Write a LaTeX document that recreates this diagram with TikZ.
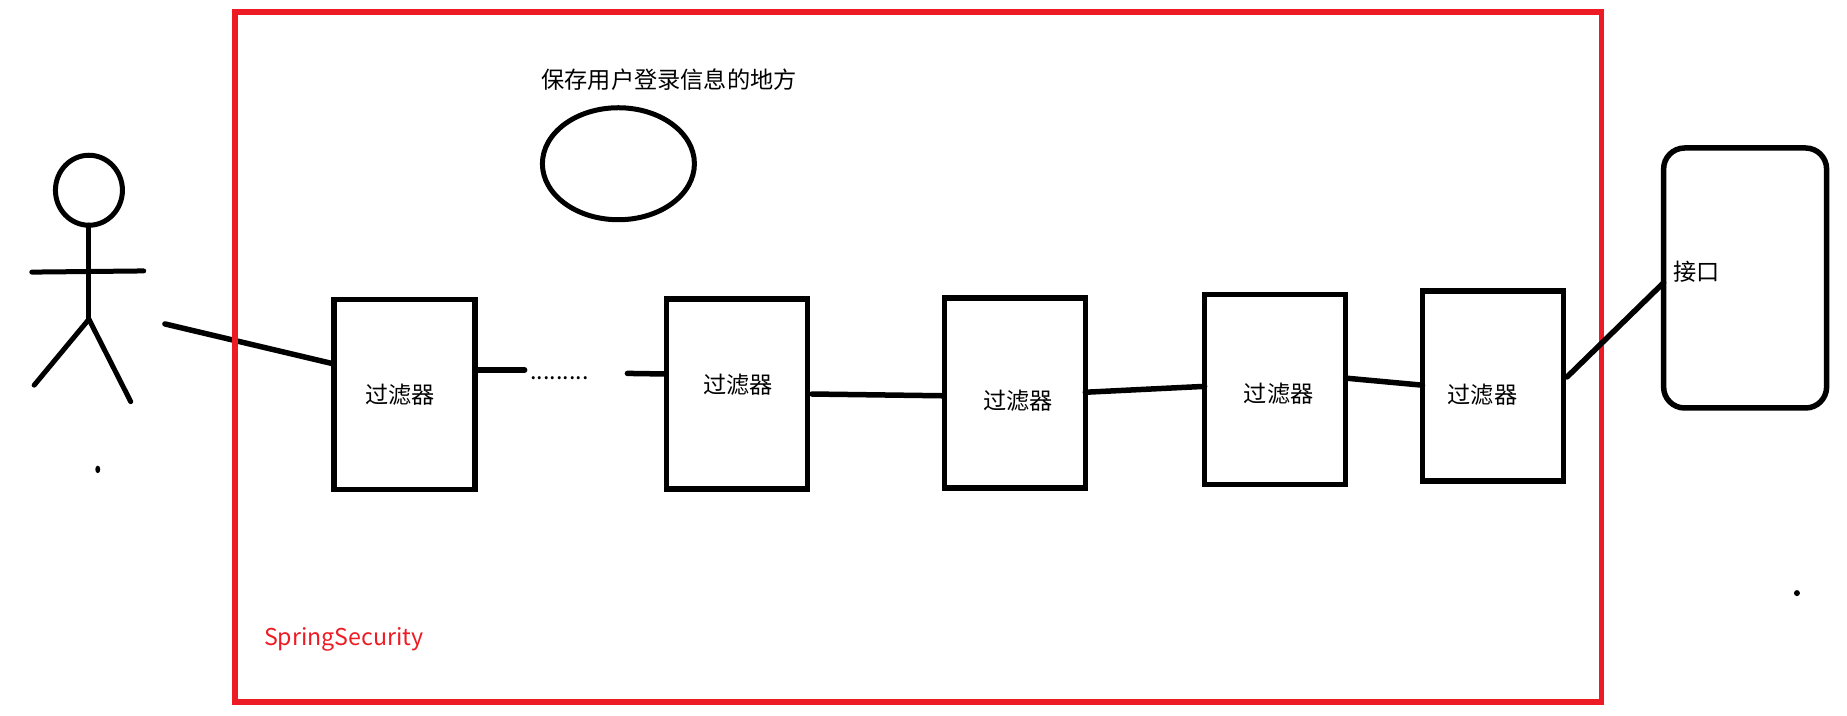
\documentclass[tikz,border=0pt]{standalone}
\usepackage{fontspec}
\setmainfont{Noto Sans CJK SC}
\usepackage{tikz}
\usetikzlibrary{calc,shapes.geometric}

\begin{document}
\begin{tikzpicture}[
    x=0.01178cm, y=-0.01178cm,
    every node/.style={outer sep=0pt},
    filterbox/.style={draw, line width=0.055cm, minimum width=1.41cm, minimum height=1.9cm},
    framebox/.style={draw=secred, line width=0.055cm, minimum width=13.665cm, minimum height=6.9cm},
    apibox/.style={draw, line width=0.055cm, rounded corners=0.21cm, minimum width=1.63cm, minimum height=2.6cm},
    roundnode/.style={draw, ellipse, line width=0.05cm, inner sep=0pt},
    wire/.style={line width=0.055cm, line cap=round},
    limb/.style={line width=0.05cm, line cap=round},
    lbl/.style={font=\fontsize{6.6pt}{8pt}\selectfont, inner sep=0pt},
    speck/.style={fill, ellipse, inner sep=0pt, minimum width=0.05cm, minimum height=0.075cm},
  ]
    \definecolor{secred}{RGB}{237,28,36}
    \useasboundingbox (0,0) rectangle (1568,607.8);

    % Filter chain
    \node[filterbox] (f1) at (343.5,335) {};
    \node[filterbox] (f2) at (625.5,334.5) {};
    \node[filterbox] (f3) at (861.5,333.5) {};
    \node[filterbox] (f4) at (1082.5,330.5) {};
    \node[filterbox] (f5) at (1267.5,327.5) {};

    % Person
    \node[roundnode, minimum width=0.67cm, minimum height=0.7cm] (head) at (75.5,161.5) {};
    \coordinate (hip) at (75.5,271);
    \coordinate (armL) at (27,231);
    \coordinate (armR) at (122,230);
    \coordinate (footL) at (29,327);
    \coordinate (footR) at (111,341);
    \draw[limb] (head.south) -- (hip);
    \draw[limb] (armL) -- (armR);
    \draw[limb] (hip) -- (footL);
    \draw[limb] (hip) -- (footR);
    \coordinate (user) at (140,275);
    \draw[wire] (user) -- ($(f1.west)+(0,-26)$);
    \node[speck] (s1) at (83,398.5) {};

    % Red frame goes over the first wire only
    \node[framebox] (frame) at (779.5,303) {};
    \node[lbl, text=secred] (secname) at (292,543) {SpringSecurity};

    % Session store
    \node[roundnode, minimum width=1.52cm, minimum height=1.12cm] (store) at (525,139) {};
    \node[lbl] (storename) at (568,68) {保存用户登录信息的地方};

    % Api
    \node[apibox] (api) at (1481.5,236) {};
    \node[lbl] (apiname) at (1440.5,231) {接口};
    \node[speck, minimum width=0.06cm, minimum height=0.06cm] (s2) at (1525.5,503.5) {};

    % Filter labels
    \node[lbl] (t1) at (339.5,335) {过滤器};
    \node[lbl] (t2) at (626.5,327) {过滤器};
    \node[lbl] (t3) at (864.5,340) {过滤器};
    \node[lbl] (t4) at (1085.5,334) {过滤器};
    \node[lbl] (t5) at (1258.5,335) {过滤器};

    % Wires between filters
    \node[lbl] (gap) at (475,321) {.........};
    \draw[wire] ($(f1.east)+(0,-21)$) -- ($(gap.west)+(-5,-7)$);
    \draw[wire] ($(gap.east)+(33,-4)$) -- ($(f2.west)+(0,-17)$);
    \draw[wire] ($(f2.east)+(4,0)$) -- ($(f3.west)+(0,2.5)$);
    \draw[wire] ($(f3.east)+(0,-0.5)$) -- ($(f4.west)+(0,-2.5)$);
    \draw[wire] ($(f4.east)+(0,-9.5)$) -- ($(f5.west)+(0,-0.5)$);
    \draw[wire] ($(f5.east)+(3,-7.5)$) -- ($(api.west)+(0,4)$);
  \end{tikzpicture}
\end{document}
